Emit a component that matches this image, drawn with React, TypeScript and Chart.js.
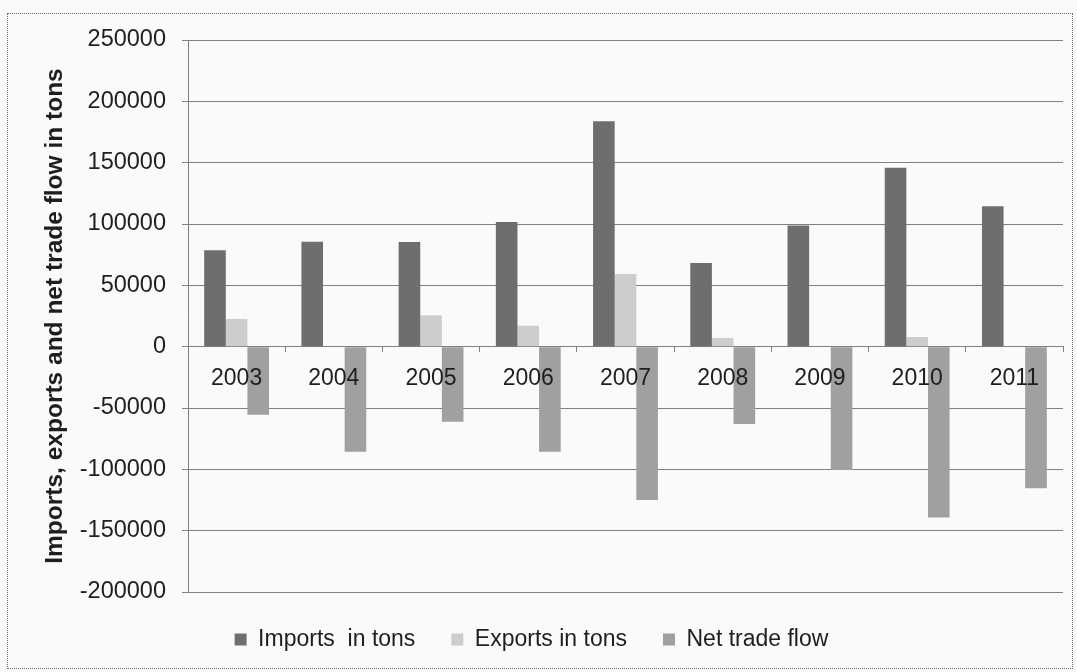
import React, { useEffect, useRef } from "react";
import { Chart, registerables } from "chart.js";

Chart.register(...registerables);

// ---- data ----
const years: string[] = ["2003", "2004", "2005", "2006", "2007", "2008", "2009", "2010", "2011"];
const importsTons: number[] = [78500, 85600, 85400, 101700, 183800, 68300, 98700, 145800, 114400];
const exportsTons: number[] = [22600, 0, 25500, 17100, 59300, 7100, 0, 7900, 0];
const netTradeFlow: number[] = [-55500, -85600, -61200, -85600, -125000, -63000, -100600, -139200, -115500];
const seriesNames: string[] = ["Imports  in tons", "Exports in tons", "Net trade flow"];
const yTickValues: number[] = [250000, 200000, 150000, 100000, 50000, 0, -50000, -100000, -150000, -200000];
const yTitle = "Imports, exports and net trade flow in tons";

const FONT = "'Liberation Sans', Arial, Helvetica, sans-serif";
const seriesColors = ["#6e6e6e", "#cdcdcd", "#a0a0a0"];

export default function App() {
  const canvasRef = useRef<HTMLCanvasElement>(null);

  useEffect(() => {
    const canvas = canvasRef.current;
    if (!canvas) return;
    const chart = new Chart(canvas, {
      type: "bar",
      data: {
        labels: years,
        datasets: [
          { label: seriesNames[0], data: importsTons, backgroundColor: seriesColors[0], borderWidth: 0 },
          { label: seriesNames[1], data: exportsTons, backgroundColor: seriesColors[1], borderWidth: 0 },
          { label: seriesNames[2], data: netTradeFlow, backgroundColor: seriesColors[2], borderWidth: 0 },
        ],
      },
      options: {
        animation: false,
        responsive: false,
        maintainAspectRatio: false,
        layout: { padding: { top: 40, right: 14, bottom: 11, left: 0 } },
        datasets: { bar: { categoryPercentage: 0.667, barPercentage: 1 } },
        plugins: {
          tooltip: { enabled: false },
          legend: {
            position: "bottom",
            labels: {
              boxWidth: 12,
              boxHeight: 12,
              padding: 36,
              color: "#1e1e1e",
              font: { family: FONT, size: 23 },
            },
          },
        },
        scales: {
          x: {
            position: { y: 0 },
            grid: {
              drawOnChartArea: false,
              drawTicks: true,
              tickLength: 5,
              offset: true,
              color: "#808080",
            },
            border: { color: "#808080", width: 1 },
            ticks: {
              z: 1,
              padding: 13,
              maxRotation: 0,
              autoSkip: false,
              color: "#1e1e1e",
              font: { family: FONT, size: 23 },
            },
          },
          y: {
            min: -200000,
            max: 250000,
            afterBuildTicks: (scale: any) => {
              scale.ticks = yTickValues.map((v) => ({ value: v }));
            },
            afterFit: (scale: any) => {
              scale.width = 188;
            },
            grid: { color: "#808080", tickLength: 6, lineWidth: 1 },
            border: { color: "#808080", width: 1 },
            ticks: {
              padding: 16,
              color: "#1e1e1e",
              font: { family: FONT, size: 23.5 },
              callback: (v: any) => String(v),
            },
            title: {
              display: true,
              text: yTitle,
              color: "#1e1e1e",
              font: { family: FONT, size: 24.5, weight: "bold" },
              padding: { top: 41, bottom: 0 },
            },
          },
        },
      } as any,
    });
    return () => chart.destroy();
  }, []);

  return (
    <div
      style={{
        position: "fixed",
        left: 0,
        top: 0,
        width: 1077,
        height: 672,
        background: "#fafafa",
        overflow: "hidden",
      }}
    >
      <div
        style={{
          position: "absolute",
          left: 7,
          top: 13,
          width: 1066,
          height: 656,
          border: "1px dotted #6a6a6a",
          boxSizing: "border-box",
        }}
      />
      <canvas
        ref={canvasRef}
        width={1077}
        height={672}
        style={{ position: "absolute", left: 0, top: 0, width: 1077, height: 672 }}
      />
    </div>
  );
}
